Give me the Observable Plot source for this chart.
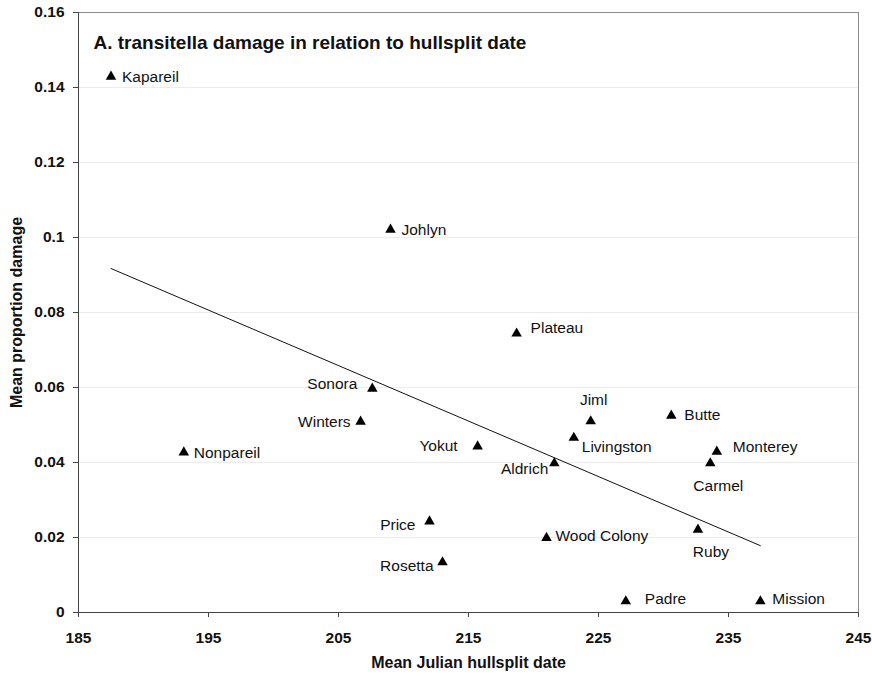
<!DOCTYPE html>
<html>
<head>
<meta charset="utf-8">
<script src="https://cdn.jsdelivr.net/npm/d3@7"></script>
<script src="https://cdn.jsdelivr.net/npm/@observablehq/plot@0.6"></script>
<style>
  body { margin: 0; background: #fff; }
  #chart svg { font-family: "Liberation Sans", Arial, sans-serif; }
</style>
</head>
<body>
<div id="chart"></div>
<script>
// ---- data ----
const cultivars = ["Kapareil", "Johlyn", "Plateau", "Sonora", "Winters", "Yokut", "Nonpareil", "Aldrich", "Livingston", "Jiml", "Butte", "Monterey", "Carmel", "Ruby", "Wood Colony", "Price", "Rosetta", "Padre", "Mission"];
const hullsplitDate = [187.5, 209.0, 218.7, 207.6, 206.7, 215.7, 193.1, 221.6, 223.1, 224.4, 230.6, 234.1, 233.6, 232.65, 221.0, 212.0, 213.0, 227.1, 237.45];
const meanDamage = [0.1429, 0.1021, 0.0744, 0.0597, 0.0509, 0.0443, 0.0427, 0.0398, 0.0466, 0.0510, 0.0525, 0.0429, 0.0398, 0.0221, 0.0199, 0.0243, 0.0134, 0.0030, 0.0030];
const xTicks = [185, 195, 205, 215, 225, 235, 245];
const yTicks = [0, 0.02, 0.04, 0.06, 0.08, 0.1, 0.12, 0.14, 0.16];
const titleText = "A. transitella damage in relation to hullsplit date";
const xLabel = "Mean Julian hullsplit date";
const yLabel = "Mean proportion damage";

// ---- label placement (annotation layout: anchor, dx, dy) ----
const labelPlacement = {
  "Kapareil": ["start", 11, 0],
  "Johlyn": ["start", 11, 0],
  "Plateau": ["start", 14, -5],
  "Sonora": ["end", -15, -5],
  "Winters": ["end", -10, 0],
  "Yokut": ["end", -20, 0],
  "Nonpareil": ["start", 10, 1],
  "Aldrich": ["end", -6, 6],
  "Livingston": ["start", 8, 9],
  "Jiml": ["middle", 3, -21],
  "Butte": ["start", 13, -1],
  "Monterey": ["start", 16, -5],
  "Carmel": ["middle", 8, 23],
  "Ruby": ["middle", 13, 22],
  "Wood Colony": ["start", 9, -2],
  "Price": ["end", -14, 4],
  "Rosetta": ["end", -9, 4],
  "Padre": ["start", 19, -2],
  "Mission": ["start", 12, -2]
};

const data = cultivars.map((name, i) => ({name, x: hullsplitDate[i], y: meanDamage[i]}));

const fmtY = d => String(+d.toFixed(2));
const font = "Liberation Sans, Arial, sans-serif";

const labelMarks = data.map(d => {
  const [anchor, dx, dy] = labelPlacement[d.name];
  return Plot.text([d], {x: "x", y: "y", text: "name", textAnchor: anchor, dx, dy,
    fontSize: 15.5, fill: "#111"});
});

const chart = Plot.plot({
  width: 872,
  height: 676,
  marginLeft: 78,
  marginRight: 14,
  marginTop: 12,
  marginBottom: 64,
  style: {fontFamily: font, background: "#fff", color: "#111"},
  x: {domain: [185, 245]},
  y: {domain: [0, 0.16]},
  marks: [
    Plot.gridY(yTicks, {stroke: "#ececec", strokeOpacity: 1}),
    Plot.frame({stroke: "#8a8a8a"}),
    Plot.axisY(yTicks, {tickFormat: fmtY, fontSize: 15.5, fontWeight: "bold", tickSize: 5, tickPadding: 9, label: null, stroke: "#444"}),
    Plot.axisX(xTicks, {tickFormat: d => String(d), fontSize: 15.5, fontWeight: "bold", tickSize: 5, tickPadding: 14, label: null, stroke: "#444"}),
    Plot.ruleX([185], {stroke: "#444"}),
    Plot.ruleY([0], {stroke: "#444"}),
    Plot.linearRegressionY(data, {x: "x", y: "y", ci: 0, stroke: "#111", strokeWidth: 1}),
    Plot.dot(data, {x: "x", y: "y", symbol: "triangle", r: 3.9, fill: "#000", stroke: "none"}),
    ...labelMarks,
    Plot.text([titleText], {frameAnchor: "top-left", dx: 15, dy: 23, textAnchor: "start", fontSize: 19, fontWeight: "bold", fill: "#111"}),
    Plot.text([xLabel], {frameAnchor: "bottom", dy: 55, textAnchor: "middle", fontSize: 16, fontWeight: "bold", fill: "#111"}),
    Plot.text([yLabel], {frameAnchor: "left", dx: -62, rotate: -90, textAnchor: "middle", fontSize: 16, fontWeight: "bold", fill: "#111"})
  ]
});
document.getElementById("chart").append(chart);
</script>
</body>
</html>
